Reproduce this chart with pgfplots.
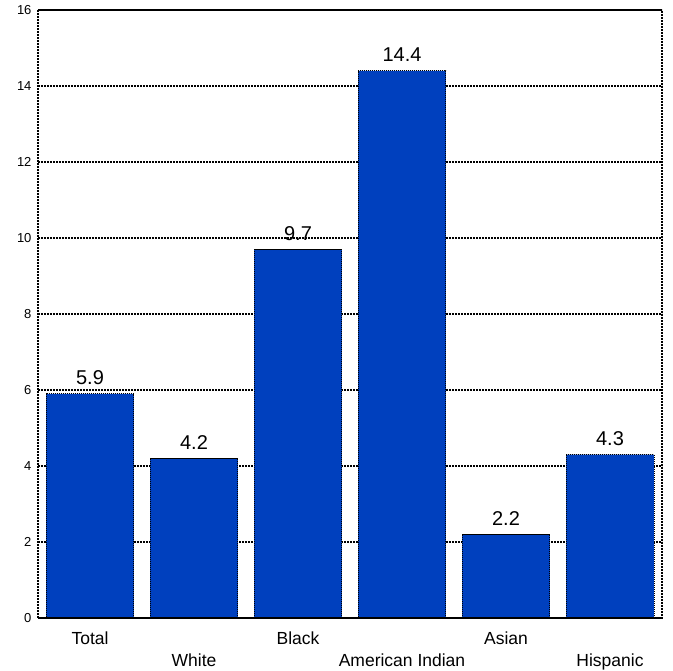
\documentclass[border=0pt]{standalone}
\usepackage{pgfplots}
\pgfplotsset{compat=1.18}
\usepackage{fontspec}
\setmainfont{Liberation Sans}
\definecolor{barblue}{RGB}{0,64,190}
\begin{document}
\begin{tikzpicture}
\begin{axis}[
  at={(0,0)}, anchor=south west,
  scale only axis,
  width=624bp, height=608bp,
  xmin=-0.5, xmax=5.5,
  ymin=0, ymax=16,
  ytick={0,2,...,16},
  xtick={0,2,4},
  xticklabels={Total,Black,Asian},
  extra x ticks={1,3,5},
  extra x tick labels={White,American Indian,Hispanic},
  extra x tick style={tick label style={yshift=-22bp}, grid=none},
  major tick length=0pt,
  ymajorgrids,
  grid style={black, line width=1.3pt, dash pattern=on 1.8bp off 1.2bp},
  axis line style={black, line width=2pt, dash pattern=on 2bp off 1bp},
  tick label style={font=\fontsize{13bp}{15bp}\selectfont},
  xticklabel style={font=\fontsize{17.5bp}{20bp}\selectfont, yshift=-10bp},
  yticklabel style={xshift=-3bp},
  /pgf/number format/assume math mode=true,
  nodes near coords,
  every node near coord/.append style={font=\fontsize{20bp}{22bp}\selectfont, black, yshift=5bp},
  point meta=explicit symbolic,
]
\addplot[ybar, bar width=0.846, fill=barblue, draw=black, line width=1pt, dash pattern=on 1.2bp off 0.8bp] coordinates {
(0,5.9) [5.9]
(1,4.2) [4.2]
(2,9.7) [9.7]
(3,14.4) [14.4]
(4,2.2) [2.2]
(5,4.3) [4.3]
};
\draw[black, line width=2pt] (axis cs:-0.5,0) -- (axis cs:5.5,0);
\end{axis}
\pgfresetboundingbox
\useasboundingbox (-38bp,-53bp) rectangle (635bp,618bp);
\end{tikzpicture}
\end{document}
